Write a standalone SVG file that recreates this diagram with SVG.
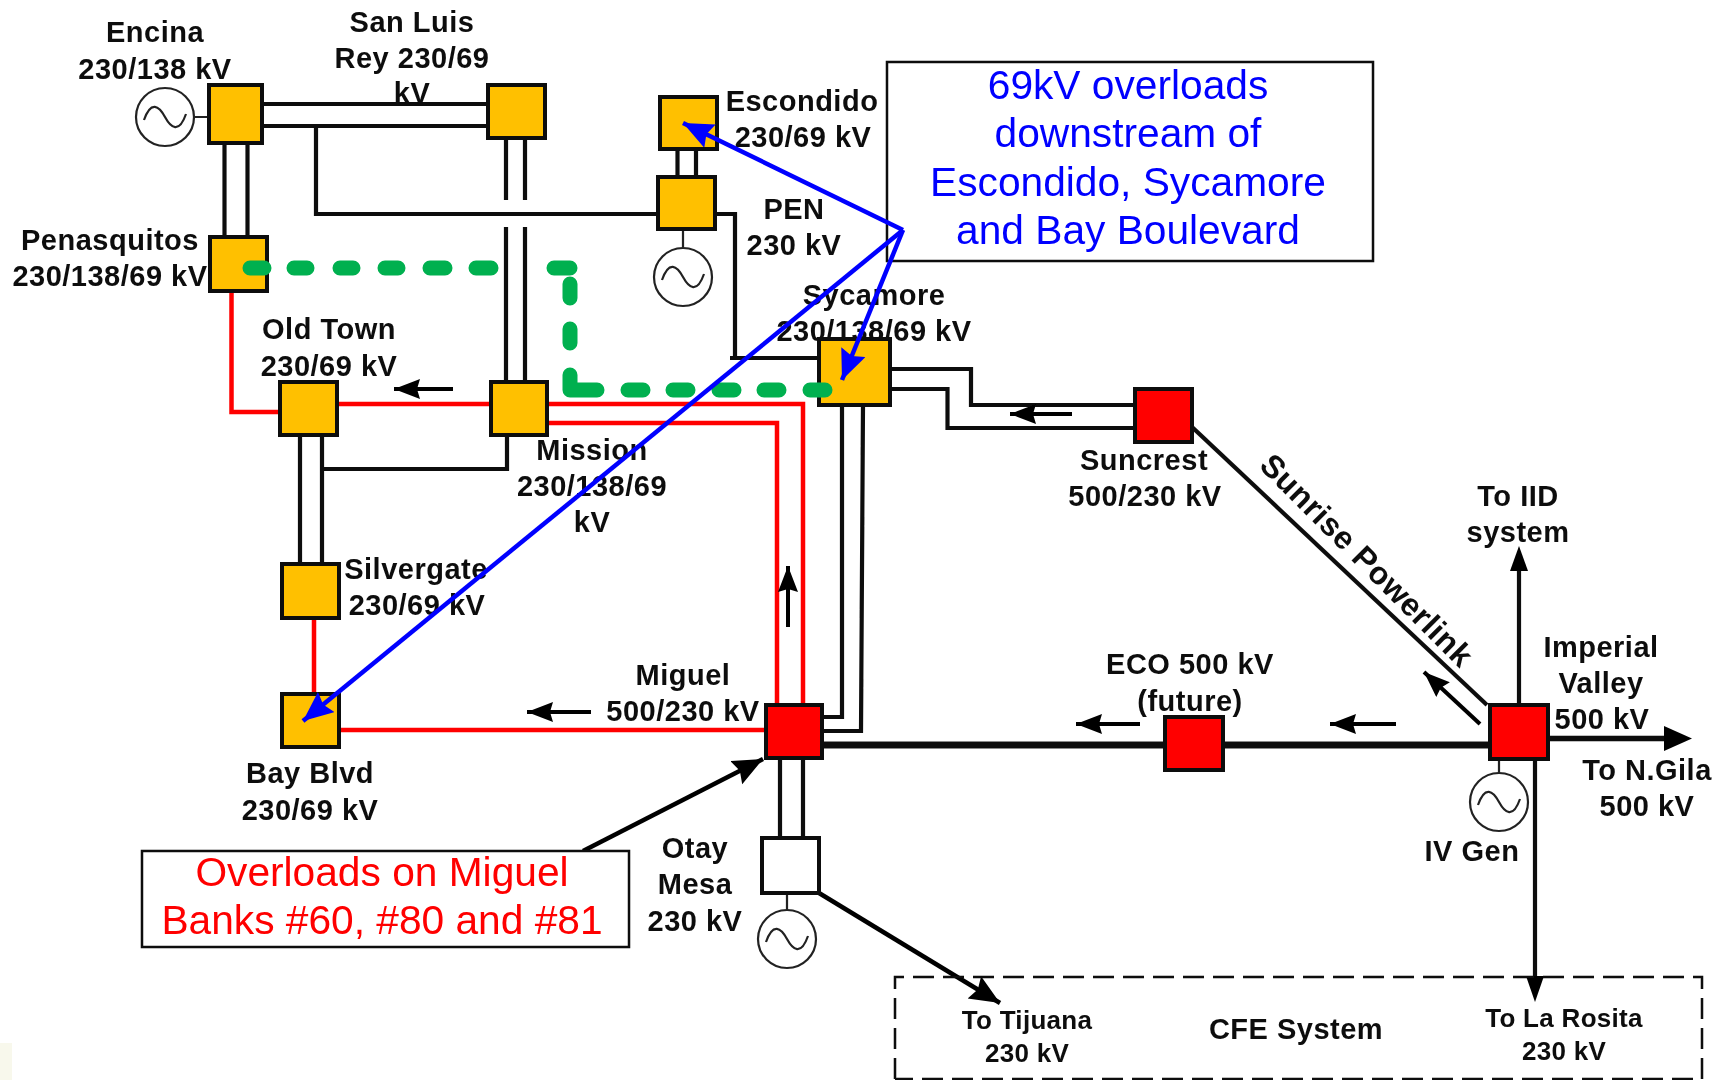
<svg xmlns="http://www.w3.org/2000/svg" width="1725" height="1080" viewBox="0 0 1725 1080">
<style>
.l{font-family:"Liberation Sans",Arial,sans-serif;font-weight:bold;font-size:29px;letter-spacing:.5px;fill:#111;text-anchor:middle}
.s{font-size:26px;letter-spacing:.3px}
.b{font-family:"Liberation Sans",Arial,sans-serif;font-size:40.7px;fill:#0000ff;text-anchor:middle}
.r{font-family:"Liberation Sans",Arial,sans-serif;font-size:40.7px;fill:#ff0000;text-anchor:middle}
.k{fill:none;stroke:#111;stroke-width:4.200}
.rd{fill:none;stroke:#ff0000;stroke-width:4.500}
.sm{fill:none;stroke:#000;stroke-width:4;marker-end:url(#ah)}
.lg{fill:none;stroke:#000;stroke-width:4.500;marker-end:url(#al)}
.bl{fill:none;stroke:#0000ff;stroke-width:4.500;marker-end:url(#bh)}
.y{fill:#ffc000;stroke:#111;stroke-width:4}
.x{fill:#ff0000;stroke:#111;stroke-width:4}
.w{fill:#fff;stroke:#111;stroke-width:4}
.g{fill:#fff;stroke:#222;stroke-width:2.200}
.sn{fill:none;stroke:#222;stroke-width:2.200}
</style>
<defs>
<marker id="ah" markerUnits="userSpaceOnUse" markerWidth="28" markerHeight="22" refX="26" refY="10" orient="auto"><path d="M0,0L26,10L0,20L3,10Z" fill="#000"/></marker>
<marker id="al" markerUnits="userSpaceOnUse" markerWidth="32" markerHeight="28" refX="30" refY="13" orient="auto"><path d="M0,0L30,13L0,26L4,13Z" fill="#000"/></marker>
<marker id="bh" markerUnits="userSpaceOnUse" markerWidth="34" markerHeight="28" refX="30" refY="13" orient="auto"><path d="M0,0L30,13L0,26L4,13Z" fill="#0000ff"/></marker>
<filter id="soft" x="0" y="0" width="1725" height="1080" filterUnits="userSpaceOnUse"><feGaussianBlur stdDeviation="0.7"/></filter>
<path id="sine" d="M-21,3C-14,-17 -6,-11 0,0C6,11 14,17 21,-3"/>
</defs>
<rect width="1725" height="1080" fill="#fff"/>
<rect x="0" y="1043" width="12" height="37" fill="#f8f8ec"/>
<g filter="url(#soft)">
<g id="connectors">
<path class="k" d="M262,104H488M262,126H488"/>
<path class="k" d="M224.500,143V237M247.500,143V237"/>
<path class="k" d="M506,138V200M525,138V200M506,227V382M525,227V382"/>
<path class="k" d="M316,126V214H658"/>
<path class="k" d="M677.500,149V177M696,149V177"/>
<path class="k" d="M715,214H735V358M730,358H818"/>
<path class="k" d="M890,369H971V405H1135M890,389H947.500V428H1135"/>
<path class="k" d="M842,405V717H822M863,405L861,731H822"/>
<path class="k" d="M300,435V564M322,435V564"/>
<path class="k" d="M322,469H507V435"/>
<path class="k" d="M780,758V838M803,758V838"/>
<path class="rd" d="M231.500,291V412H280M337,404H491"/>
<path class="rd" d="M547,404H803V705M547,423H777V705"/>
<path class="rd" d="M314,618V694M339,730H765"/>
<path class="k" d="M1192,427L1487,705"/>
<path class="k" style="stroke-width:7" d="M822,745H1490"/>
<path class="k" style="stroke-width:5.500" d="M1548,738.500H1670"/>
<path d="M1664,726L1692,738.500L1664,751Z" fill="#000"/>
<path class="k" d="M1519,705V570"/>
<path d="M1510,571L1519,546L1528,571Z" fill="#000"/>
<path class="k" d="M1535,758V980"/>
<path d="M1526,976L1535,1002L1544,976Z" fill="#000"/>
<path class="sm" d="M453,389H394"/>
<path class="sm" d="M1072,414H1010"/>
<path class="sm" d="M788,627V566"/>
<path class="sm" d="M591,712H527"/>
<path class="sm" d="M1140,724H1076"/>
<path class="sm" d="M1396,724H1330"/>
<path class="sm" d="M1480,724L1424,672"/>
<path class="lg" d="M583,851L763,759"/>
<path class="lg" d="M819,893L1000,1003"/>
</g>
<g id="gens">
<path class="sn" d="M194,117H208M683,229V248M787,893V910M1499,758V773"/>
</g>
<g id="encina"><rect class="y" x="209" y="85" width="53" height="58"/><circle class="g" cx="165" cy="117" r="29"/><use href="#sine" class="sn" x="165" y="117"/><text class="l" x="155" y="42">Encina</text><text class="l" x="155" y="79">230/138 kV</text></g>
<g id="sanluis"><rect class="y" x="488" y="85" width="57" height="53"/><text class="l" x="412" y="32">San Luis</text><text class="l" x="412" y="68">Rey 230/69</text><text class="l" x="412" y="103">kV</text></g>
<g id="penasquitos"><rect class="y" x="210" y="237" width="57" height="54"/><text class="l" x="110" y="250">Penasquitos</text><text class="l" x="110" y="286">230/138/69 kV</text></g>
<g id="oldtown"><rect class="y" x="280" y="382" width="57" height="53"/><text class="l" x="329" y="339">Old Town</text><text class="l" x="329" y="376">230/69 kV</text></g>
<g id="mission"><rect class="y" x="491" y="382" width="56" height="53"/><text class="l" x="592" y="460">Mission</text><text class="l" x="592" y="496">230/138/69</text><text class="l" x="592" y="532">kV</text></g>
<g id="escondido"><rect class="y" x="660" y="97" width="57" height="52"/><text class="l" x="802" y="111">Escondido</text><text class="l" x="803" y="147">230/69 kV</text></g>
<g id="pen"><rect class="y" x="658" y="177" width="57" height="52"/><circle class="g" cx="683" cy="277" r="29"/><use href="#sine" class="sn" x="683" y="277"/><text class="l" x="794" y="219">PEN</text><text class="l" x="794" y="255">230 kV</text></g>
<g id="sycamore"><rect class="y" x="819" y="339" width="71" height="66"/><text class="l" x="874" y="305">Sycamore</text><text class="l" x="874" y="341">230/138/69 kV</text></g>
<g id="suncrest"><rect class="x" x="1135" y="389" width="57" height="53"/><text class="l" x="1144" y="470">Suncrest</text><text class="l" x="1145" y="506">500/230 kV</text></g>
<g id="silvergate"><rect class="y" x="282" y="564" width="57" height="54"/><text class="l" x="416" y="579">Silvergate</text><text class="l" x="417" y="615">230/69 kV</text></g>
<g id="bayblvd"><rect class="y" x="282" y="694" width="57" height="53"/><text class="l" x="310" y="783">Bay Blvd</text><text class="l" x="310" y="820">230/69 kV</text></g>
<g id="miguel"><rect class="x" x="766" y="705" width="56" height="53"/><text class="l" x="683" y="685">Miguel</text><text class="l" x="683" y="721">500/230 kV</text></g>
<g id="otay"><rect class="w" x="762" y="838" width="57" height="55"/><circle class="g" cx="787" cy="939" r="29"/><use href="#sine" class="sn" x="787" y="939"/><text class="l" x="695" y="858">Otay</text><text class="l" x="695" y="894">Mesa</text><text class="l" x="695" y="931">230 kV</text></g>
<g id="eco"><rect class="x" x="1165" y="717" width="58" height="53"/><text class="l" x="1190" y="674">ECO 500 kV</text><text class="l" x="1190" y="711">(future)</text></g>
<g id="imperial"><rect class="x" x="1490" y="705" width="58" height="54"/><circle class="g" cx="1499" cy="802" r="29"/><use href="#sine" class="sn" x="1499" y="802"/><text class="l" x="1601" y="657">Imperial</text><text class="l" x="1601" y="693">Valley</text><text class="l" x="1602" y="729">500 kV</text><text class="l" x="1472" y="861">IV Gen</text></g>
<g id="labels">
<text class="l" x="1518" y="506">To IID</text><text class="l" x="1518" y="542">system</text>
<text class="l" x="1647" y="780">To N.Gila</text><text class="l" x="1647" y="816">500 kV</text>
<text class="l" x="1359" y="568" transform="rotate(45 1359 568)" style="font-size:32px">Sunrise Powerlink</text>
</g>
<g id="cfe"><path d="M895,1079V977H1702V1079H895" fill="none" stroke="#111" stroke-width="2.500" stroke-dasharray="21 9"/><text class="l" x="1296" y="1039">CFE System</text><text class="l s" x="1027" y="1029">To Tijuana</text><text class="l s" x="1027" y="1062">230 kV</text><text class="l s" x="1564" y="1027">To La Rosita</text><text class="l s" x="1564" y="1060">230 kV</text></g>
<g id="note-blue"><rect x="887" y="62" width="486" height="199" fill="#fff" stroke="#111" stroke-width="2.500"/><text class="b" x="1128" y="99">69kV overloads</text><text class="b" x="1128" y="147">downstream of</text><text class="b" x="1128" y="196">Escondido, Sycamore</text><text class="b" x="1128" y="244">and Bay Boulevard</text></g>
<g id="note-red"><rect x="142" y="851" width="487" height="96" fill="#fff" stroke="#111" stroke-width="2.500"/><text class="r" x="382" y="886">Overloads on Miguel</text><text class="r" x="382" y="934">Banks #60, #80 and #81</text></g>
<g id="overlays">
<path fill="none" stroke="#00b050" stroke-width="15" stroke-linecap="round" stroke-linejoin="round" d="M250,268H264M294,268H307M340,268H353M385,268H398M430,268H445M476,268H491M554,268H570M570,284V298M570,329V343M570,375V390H597M628,390H643M673,390H688M719,390H734M764,390H779M810,390H825"/>
<path class="bl" d="M903,230L683,123"/>
<path class="bl" d="M903,230L842,380"/>
<path class="bl" d="M903,230L303,721"/>
</g>
</g>
</svg>
